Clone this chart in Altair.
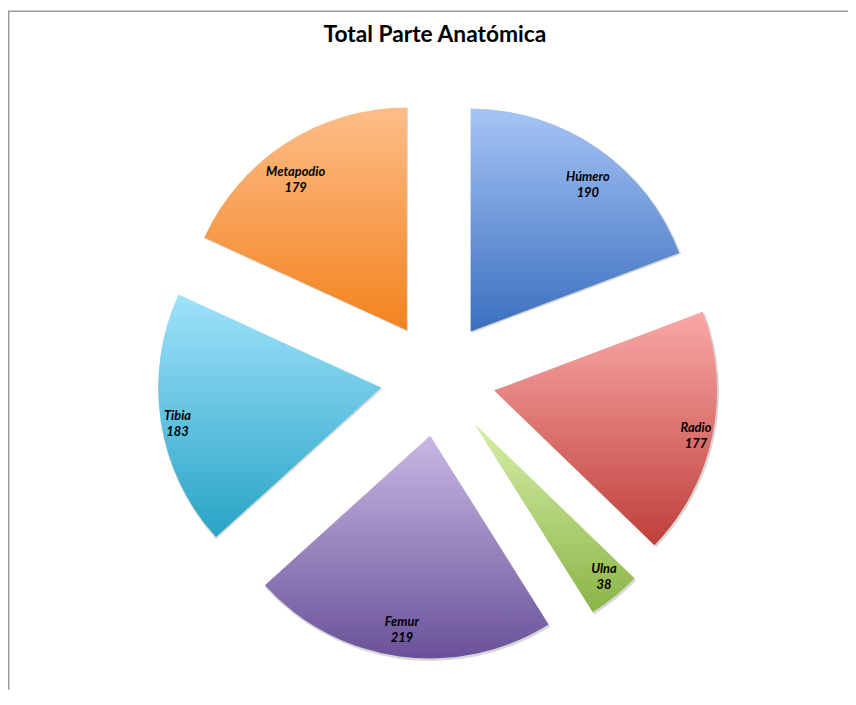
import altair as alt
import pandas as pd

# ---- data ----
titulo = "Total Parte Anatómica"
partes = ["Húmero", "Radio", "Ulna", "Femur", "Tibia", "Metapodio"]
valores = [190, 177, 38, 219, 183, 179]
claros = ["#a6c4f6", "#f9a9a7", "#d7efa9", "#c8b8e4", "#a0e2fb", "#fdbd89"]
oscuros = ["#3a6fbe", "#bf3f3a", "#8ab446", "#6a5199", "#27a4c5", "#f3831e"]

# ---- layout (pixels, plot-area coordinates; plot origin = page (8, 8)) ----
W, H = 848, 685
CX, CY = 434, 371      # pie centre
TX = 431               # title centre
R = 225                # pie radius
EXPLODE = 58           # explosion distance of every slice
RLX, RLY = 208, 190    # label distance from slice apex (horizontal / vertical)

df = pd.DataFrame({"parte": partes, "valor": valores, "orden": list(range(len(partes)))})

base = (
    alt.Chart(df)
    .transform_window(acum="sum(valor)", sort=[alt.SortField("orden")], frame=[None, 0])
    .transform_joinaggregate(total="sum(valor)")
    .transform_calculate(
        a0="2*PI*(datum.acum - datum.valor)/datum.total",
        a1="2*PI*datum.acum/datum.total",
    )
    .transform_calculate(mid="(datum.a0 + datum.a1)/2")
    .transform_calculate(
        px=f"{CX} + {EXPLODE}*sin(datum.mid)",
        py=f"{CY} - {EXPLODE}*cos(datum.mid)",
    )
    .transform_calculate(
        lx=f"datum.px + {RLX}*sin(datum.mid)",
        ly=f"datum.py - {RLY}*cos(datum.mid)",
        etiqueta="[datum.parte, '' + datum.valor]",
    )
)

pos = dict(
    x=alt.X("px:Q", scale=None, axis=None),
    y=alt.Y("py:Q", scale=None, axis=None),
    theta=alt.Theta("a0:Q", scale=None),
    theta2="a1:Q",
)

sombra = base.mark_arc(radius=R + 1, color="#7a7a7a", opacity=0.3, xOffset=1, yOffset=1.5).encode(**pos)

capas = []
for parte, c1, c2 in zip(partes, claros, oscuros):
    grad = alt.LinearGradient(
        gradient="linear",
        stops=[alt.GradientStop(color=c1, offset=0), alt.GradientStop(color=c2, offset=1)],
        x1=0, x2=0, y1=0, y2=1,
    )
    capas.append(
        base.transform_filter(alt.datum.parte == parte)
        .mark_arc(radius=R, color=grad)
        .encode(**pos)
    )

etiquetas = base.mark_text(
    font="Lato", fontSize=13, fontWeight="bold", fontStyle="italic",
    color="black", lineHeight=16, baseline="middle", align="center",
).encode(
    x=alt.X("lx:Q", scale=None, axis=None),
    y=alt.Y("ly:Q", scale=None, axis=None),
    text=alt.Text("etiqueta:N"),
)

marco = alt.Chart(pd.DataFrame({"marco": [0]}))
texto_titulo = marco.mark_text(
    font="Lato", fontSize=23, fontWeight="bold", color="black",
    align="center", baseline="alphabetic",
).encode(x=alt.value(TX), y=alt.value(31), text=alt.value(titulo))

borde_sup = marco.mark_rule(color="#9a9a9a", strokeWidth=1.5).encode(
    x=alt.value(0), x2=alt.value(W), y=alt.value(0)
)
borde_izq = marco.mark_rule(color="#9a9a9a", strokeWidth=1.5).encode(
    x=alt.value(0.75), y=alt.value(0), y2=alt.value(H)
)

chart = (
    alt.layer(sombra, *capas, etiquetas, texto_titulo, borde_sup, borde_izq)
    .properties(
        width=W,
        height=H,
        autosize=alt.AutoSizeParams(type="none"),
        padding=0,
    )
    .configure_view(stroke=None)
)

chart.save("out.html", embed_options={"renderer": "svg", "actions": False})
